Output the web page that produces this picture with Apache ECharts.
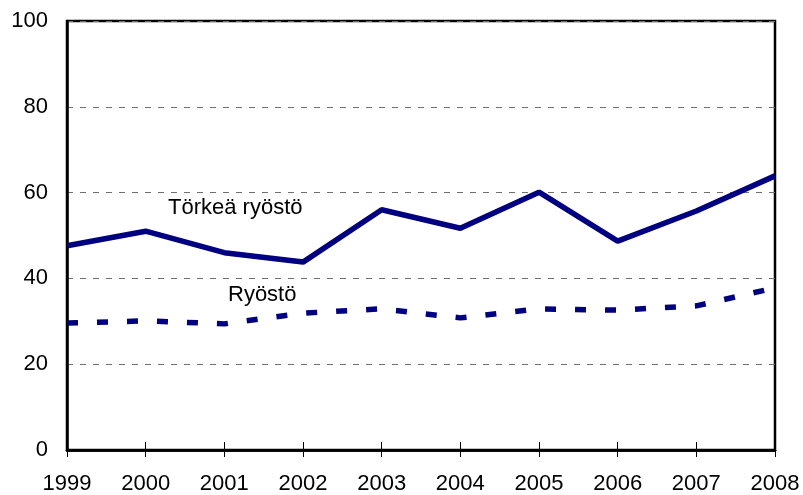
<!DOCTYPE html>
<html>
<head>
<meta charset="utf-8">
<script src="https://cdn.jsdelivr.net/npm/echarts@6/dist/echarts.min.js"></script>
<style>
  html, body { margin: 0; padding: 0; background: #fff; }
  #chart { width: 803px; height: 495px; }
</style>
</head>
<body>
<div id="chart"></div>
<script>
const years = ['1999', '2000', '2001', '2002', '2003', '2004', '2005', '2006', '2007', '2008']
const torkea = [47.6, 51, 46, 43.8, 56, 51.7, 60.1, 48.7, 55.7, 63.9]
const ryosto = [29.6, 30.1, 29.4, 31.9, 32.9, 30.8, 32.9, 32.6, 33.6, 37.8]
const seriesNames = ['Törkeä ryöstö', 'Ryöstö']

const chart = echarts.init(document.getElementById('chart'))
const font = 'Liberation Sans, Arial, sans-serif'
const navy = '#000080'

const xBase = {
  type: 'category', data: years, boundaryGap: false, gridIndex: 0,
  axisLine: { lineStyle: { color: '#000', width: 2.5 } },
  splitLine: { show: false }
}

chart.setOption({
  animation: false,
  grid: { left: 67, right: 28, top: 21, bottom: 45, show: true, borderColor: '#000', borderWidth: 2.5, backgroundColor: 'transparent' },
  xAxis: [
    { ...xBase,
      axisTick: { show: true, inside: false, length: 7, lineStyle: { color: '#000', width: 1 } },
      axisLabel: { color: '#000', fontSize: 22, fontFamily: font, margin: 23 } },
    { ...xBase, position: 'bottom',
      axisTick: { show: true, inside: true, length: 8, lineStyle: { color: '#000', width: 1 } },
      axisLabel: { show: false } }
  ],
  yAxis: {
    type: 'value', min: 0, max: 100, interval: 20,
    axisLine: { show: true, lineStyle: { color: '#000', width: 2.5 } },
    axisTick: { show: false },
    axisLabel: { color: '#000', fontSize: 22, fontFamily: font, margin: 19 },
    splitLine: { lineStyle: { color: '#707070', type: [6, 7], width: 1 } }
  },
  series: [
    {
      name: seriesNames[0], type: 'line', data: torkea, symbol: 'none',
      lineStyle: { color: navy, width: 5.5 }, z: 3
    },
    {
      name: seriesNames[1], type: 'line', data: ryosto, symbol: 'none',
      lineStyle: { color: navy, width: 5.5, type: [11, 19], cap: 'butt' }, z: 3
    }
  ],
  graphic: [
    { type: 'text', left: 168, top: 197, style: { text: seriesNames[0], fontSize: 22, fontFamily: font, fill: '#000' } },
    { type: 'text', left: 228, top: 284, style: { text: seriesNames[1], fontSize: 22, fontFamily: font, fill: '#000' } }
  ]
})
</script>
</body>
</html>
